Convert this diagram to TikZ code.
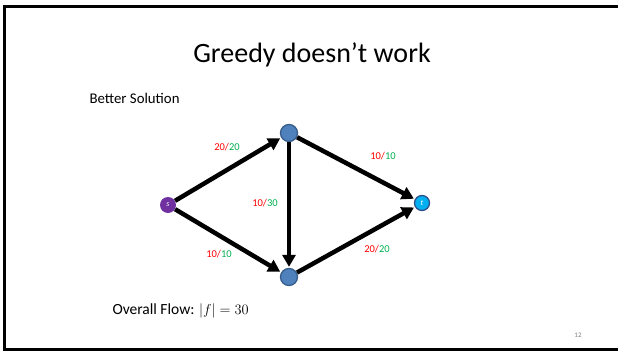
\documentclass[tikz,border=0pt]{standalone}
\usepackage{fontspec}
\usepackage{tikz}
\usepackage{xcolor}
\usetikzlibrary{arrows.meta, positioning, shapes}
\setmainfont{Carlito}
\definecolor{srcpurple}{RGB}{112, 48, 160}
\definecolor{nodeblue}{RGB}{79, 129, 189}
\definecolor{nodeedge}{RGB}{56, 93, 138}
\definecolor{sinkcyan}{RGB}{0, 176, 240}
\definecolor{sinkedge}{RGB}{47, 82, 143}
\definecolor{flowred}{RGB}{255, 0, 0}
\definecolor{capgreen}{RGB}{0, 176, 80}

\begin{document}
\begin{tikzpicture}[x=1pt,y=-1pt,
          vert/.style={circle,draw=nodeedge,fill=nodeblue,line width=1.3pt,
                       minimum size=17pt,inner sep=0pt},
          src/.style={circle,fill=srcpurple,minimum size=16pt,inner sep=0pt,
                      text=white,font=\fontsize{8}{9}\selectfont\itshape},
          sink/.style={circle,draw=sinkedge,fill=sinkcyan,line width=1.3pt,
                       minimum size=15pt,inner sep=0pt,text=white,
                       font=\fontsize{8}{9}\selectfont\itshape},
          pipe/.style={line width=4.5pt,
                       -{Triangle[length=12pt,width=13pt]},shorten >=1pt},
          flowlbl/.style={font=\fontsize{10.5}{12}\selectfont}]
        % slide frame
        \useasboundingbox (0,0) rectangle (618,351);
        \draw[line width=3pt] (4.5,349) -- (4.5,6) -- (620,6);
        \draw[line width=3pt] (3,349) -- (620,349);
        % texts
        \node (title) at (312,55) {\fontsize{28}{32}\selectfont Greedy doesn’t work};
        \node[anchor=west] (sub) at (86,98) {\fontsize{14.8}{17}\selectfont Better Solution};
        \node[anchor=west] (total) at (109,311)
          {\fontsize{15.5}{18}\selectfont Overall Flow: $|f|=30$};
        \node[gray,font=\fontsize{7}{8}\selectfont] (pg) at (578,335) {12};
        % network
        \node[src](s) at (168,205){s};
        \node[vert](u) at (289,133){};
        \node[vert](v) at (289,277){};
        \node[sink](t) at (422,203){t};
        \draw[pipe](s)--(u);
        \draw[pipe](s)--(v);
        \draw[pipe](u)--(v);
        \draw[pipe](u)--(t);
        \draw[pipe](v)--(t);
        \node[flowlbl] (su) at (227,147){\textcolor{flowred}{20/}\textcolor{capgreen}{20}};
        \node[flowlbl] (ut) at (383,156){\textcolor{flowred}{10/}\textcolor{capgreen}{10}};
        \node[flowlbl] (uv) at (265,203){\textcolor{flowred}{10/}\textcolor{capgreen}{30}};
        \node[flowlbl] (sv) at (219,254){\textcolor{flowred}{10/}\textcolor{capgreen}{10}};
        \node[flowlbl] (vt) at (377,249){\textcolor{flowred}{20/}\textcolor{capgreen}{20}};
      \end{tikzpicture}
\end{document}
